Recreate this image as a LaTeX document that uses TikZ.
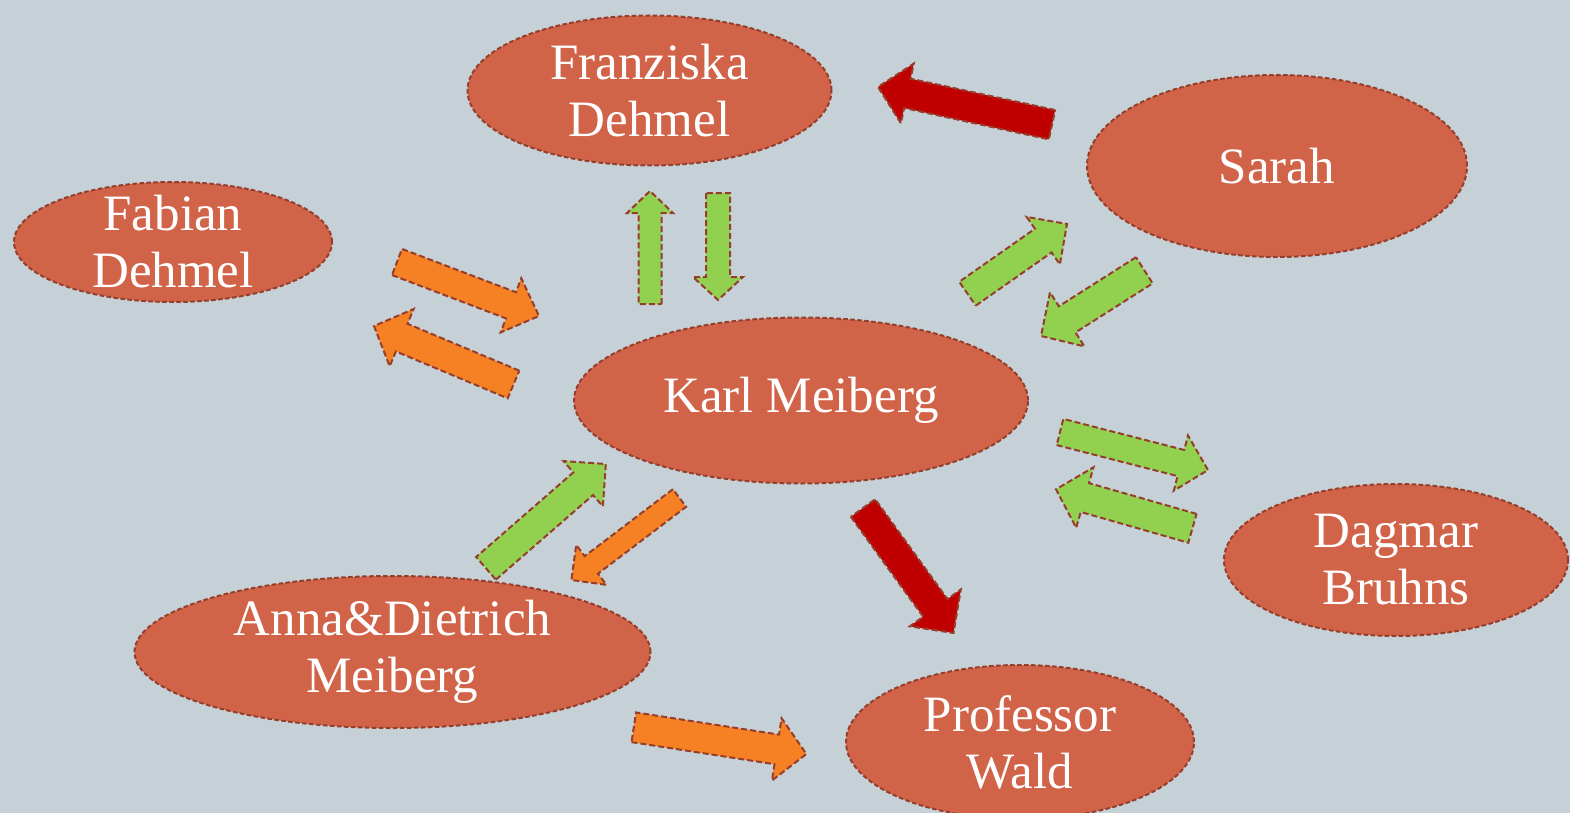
\documentclass[tikz,border=0pt]{standalone}
\usepackage{fontspec}
\setmainfont{Liberation Serif}
\usetikzlibrary{calc,shapes.geometric}

\definecolor{slatebg}{RGB}{197,209,215}
\definecolor{personfill}{RGB}{209,99,73}
\definecolor{dashbrown}{RGB}{150,62,44}
\definecolor{kindgreen}{RGB}{146,208,80}
\definecolor{mildorange}{RGB}{246,128,36}
\definecolor{hardred}{RGB}{192,0,0}

\tikzset{
  person/.style={ellipse, draw=dashbrown, fill=personfill, line width=2pt, dash pattern=on 4.5pt off 2.5pt, inner sep=0pt},
  nametext/.style={text=white, align=center, inner sep=0pt, font=\fontsize{51}{57}\selectfont},
  blockline/.style={draw=dashbrown, line width=2pt, dash pattern=on 6pt off 3pt, line join=miter},
}

% block arrow: fill, tail, tip, half shaft, half head, head length
\newcommand\blockarrow[6]{%
  \coordinate (#2-#3) at ($(#3)!#6!(#2)$);
  \path[blockline, fill=#1] ($(#2)!#4!90:(#3)$) -- ($(#2-#3)!#4!90:(#3)$) -- ($(#2-#3)!#5!90:(#3)$) -- (#3)
    -- ($(#2-#3)!#5!-90:(#3)$) -- ($(#2-#3)!#4!-90:(#3)$) -- ($(#2)!#4!-90:(#3)$) -- cycle;
}

\begin{document}
\begin{tikzpicture}[x=1pt,y=1pt,yscale=-1,xscale=1]
				\useasboundingbox (0,0) rectangle (1570,813);
				\fill[slatebg] (0,0) rectangle (1570,813);

				%Shape: Ellipse [franziska]
				\node[person, minimum width=364pt, minimum height=150pt] (franziska) at (649.5,90.5) {};
				%Shape: Ellipse [sarah]
				\node[person, minimum width=380pt, minimum height=182pt] (sarah) at (1277,166) {};
				%Shape: Ellipse [fabian]
				\node[person, minimum width=318pt, minimum height=120pt] (fabian) at (173,242) {};
				%Shape: Ellipse [karl]
				\node[person, minimum width=454pt, minimum height=166pt] (karl) at (801,400.5) {};
				%Shape: Ellipse [dagmar]
				\node[person, minimum width=344pt, minimum height=152pt] (dagmar) at (1396,560) {};
				%Shape: Ellipse [anna]
				\node[person, minimum width=516pt, minimum height=152pt] (anna) at (392.5,652) {};
				%Shape: Ellipse [wald]
				\node[person, minimum width=348pt, minimum height=154pt] (wald) at (1020,742) {};

				% Text Node
				\node[nametext] (franziska-t) at (franziska) {Franziska\\Dehmel};
				% Text Node
				\node[nametext] (sarah-t) at (sarah) {Sarah};
				% Text Node
				\node[nametext] (fabian-t) at (fabian) {Fabian\\Dehmel};
				% Text Node
				\node[nametext] (karl-t) at (karl) {Karl Meiberg};
				% Text Node
				\node[nametext] (dagmar-t) at (dagmar) {Dagmar\\Bruhns};
				% Text Node
				\node[nametext] (anna-t) at (anna) {Anna\&Dietrich\\Meiberg};
				% Text Node
				\node[nametext] (wald-t) at (wald) {Professor\\Wald};

				%Arrow ends
				\coordinate (fab2karl-a) at (397,262);    \coordinate (fab2karl-b) at (539,316);
				\coordinate (karl2fab-a) at (513.5,384.5); \coordinate (karl2fab-b) at (374,326);
				\coordinate (karl2fra-a) at (650,304);    \coordinate (karl2fra-b) at (650,191);
				\coordinate (fra2karl-a) at (718,193);    \coordinate (fra2karl-b) at (718,300);
				\coordinate (sar2fra-a) at (1052,124.7);  \coordinate (sar2fra-b) at (878,87);
				\coordinate (karl2sar-a) at (967.5,293.7); \coordinate (karl2sar-b) at (1067,224);
				\coordinate (sar2karl-a) at (1144.3,270.3); \coordinate (sar2karl-b) at (1041,336);
				\coordinate (karl2ann-a) at (679.5,498);  \coordinate (karl2ann-b) at (571.4,580);
				\coordinate (karl2wal-a) at (863,508);    \coordinate (karl2wal-b) at (953.5,633);
				\coordinate (karl2dag-a) at (1060,432);   \coordinate (karl2dag-b) at (1208,470);
				\coordinate (dag2karl-a) at (1192.4,528.3); \coordinate (dag2karl-b) at (1056,489.3);
				\coordinate (ann2karl-a) at (486,568.3);  \coordinate (ann2karl-b) at (605.8,464);
				\coordinate (ann2wal-a) at (633.8,727.3); \coordinate (ann2wal-b) at (806.4,754);

				%Block Arrows
				\blockarrow{mildorange}{fab2karl-a}{fab2karl-b}{14pt}{29pt}{30pt}
				\blockarrow{mildorange}{karl2fab-a}{karl2fab-b}{15pt}{31pt}{30pt}
				\blockarrow{kindgreen}{karl2fra-a}{karl2fra-b}{11.5pt}{23pt}{22pt}
				\blockarrow{kindgreen}{fra2karl-a}{fra2karl-b}{12pt}{25pt}{23pt}
				\blockarrow{hardred}{sar2fra-a}{sar2fra-b}{15pt}{30.5pt}{30pt}
				\blockarrow{kindgreen}{karl2sar-a}{karl2sar-b}{14.5pt}{29pt}{29pt}
				\blockarrow{kindgreen}{sar2karl-a}{sar2karl-b}{15.5pt}{32pt}{31pt}
				\blockarrow{mildorange}{karl2ann-a}{karl2ann-b}{11pt}{25pt}{25pt}
				\blockarrow{hardred}{karl2wal-a}{karl2wal-b}{15pt}{31.5pt}{31pt}
				\blockarrow{kindgreen}{karl2dag-a}{karl2dag-b}{13.5pt}{28.5pt}{28pt}
				\blockarrow{kindgreen}{dag2karl-a}{dag2karl-b}{15pt}{31.5pt}{30pt}
				\blockarrow{kindgreen}{ann2karl-a}{ann2karl-b}{15pt}{30pt}{30pt}
				\blockarrow{mildorange}{ann2wal-a}{ann2wal-b}{15pt}{31.5pt}{30pt}

\end{tikzpicture}
\end{document}
